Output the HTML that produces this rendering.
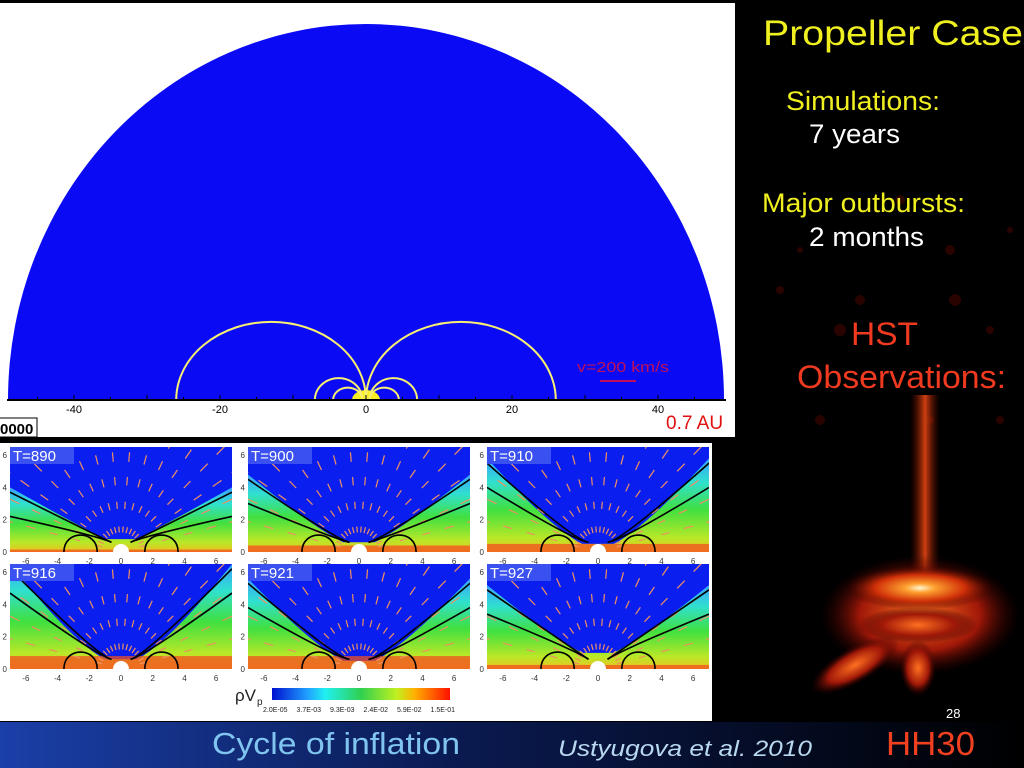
<!DOCTYPE html>
<html><head><meta charset="utf-8"><style>
html,body{margin:0;padding:0;background:#000;width:1024px;height:768px;overflow:hidden;font-family:"Liberation Sans",sans-serif}
svg{position:absolute;left:0;top:0}
</style></head><body>
<svg id="s" width="1024" height="768" xmlns="http://www.w3.org/2000/svg">
<defs>
<linearGradient id="bar" x1="0" x2="1" y1="0" y2="0"><stop offset="0" stop-color="#1a3fa8"/><stop offset="0.45" stop-color="#0a1a50"/><stop offset="1" stop-color="#000"/></linearGradient>
<linearGradient id="band" x1="0" x2="0" y1="0" y2="1"><stop offset="0" stop-color="#3aa0ff"/><stop offset="0.25" stop-color="#30e0d0"/><stop offset="0.55" stop-color="#40e040"/><stop offset="0.85" stop-color="#b8e828"/><stop offset="1" stop-color="#f0c020"/></linearGradient>
<radialGradient id="glow" cx="0.5" cy="0.5" r="0.5"><stop offset="0" stop-color="#fff8d0"/><stop offset="0.2" stop-color="#ffa030"/><stop offset="0.6" stop-color="#d03008"/><stop offset="1" stop-color="#300000" stop-opacity="0"/></radialGradient>
<radialGradient id="glow2" cx="0.5" cy="0.5" r="0.5"><stop offset="0" stop-color="#ff7020"/><stop offset="0.6" stop-color="#a01808"/><stop offset="1" stop-color="#300000" stop-opacity="0"/></radialGradient>
<linearGradient id="jet" x1="0" x2="1"><stop offset="0" stop-color="#600800" stop-opacity="0"/><stop offset="0.5" stop-color="#d04010"/><stop offset="1" stop-color="#600800" stop-opacity="0"/></linearGradient>
<linearGradient id="cbar" x1="0" x2="1"><stop offset="0" stop-color="#0010d0"/><stop offset="0.2" stop-color="#20a0ff"/><stop offset="0.3" stop-color="#20f0f0"/><stop offset="0.5" stop-color="#30d050"/><stop offset="0.7" stop-color="#c0f020"/><stop offset="0.8" stop-color="#ffb000"/><stop offset="1" stop-color="#ff1000"/></linearGradient>
<clipPath id="semi"><rect x="0" y="0" width="740" height="400"/></clipPath>
</defs>
<rect x="0" y="722" width="1024" height="46" fill="url(#bar)"/>
<g id="hst"></g>
<rect x="0" y="3" width="735" height="434" fill="#fff"/>
<g id="main"></g>
<rect x="0" y="443" width="712" height="278" fill="#fff"/>
<g id="panels"></g>
<text x="763" y="45" font-size="35" fill="#f0f020" textLength="260" lengthAdjust="spacingAndGlyphs">Propeller Case</text>
<text x="786" y="110" font-size="27" fill="#f0f020" textLength="154" lengthAdjust="spacingAndGlyphs">Simulations:</text>
<text x="809" y="143" font-size="27" fill="#fff" textLength="91" lengthAdjust="spacingAndGlyphs">7 years</text>
<text x="762" y="212" font-size="27" fill="#f0f020" textLength="203" lengthAdjust="spacingAndGlyphs">Major outbursts:</text>
<text x="809" y="246" font-size="27" fill="#fff" textLength="115" lengthAdjust="spacingAndGlyphs">2 months</text>
<text x="851" y="345" font-size="32" fill="#f03a20" textLength="67" lengthAdjust="spacingAndGlyphs">HST</text>
<text x="797" y="388" font-size="32" fill="#f03a20" textLength="209" lengthAdjust="spacingAndGlyphs">Observations:</text>
<text x="946" y="718" font-size="13" fill="#fff">28</text>
<text x="886" y="755" font-size="33" fill="#f04020" textLength="89" lengthAdjust="spacingAndGlyphs">HH30</text>
<text x="212" y="754" font-size="31" fill="#80c4f0" textLength="248" lengthAdjust="spacingAndGlyphs">Cycle of inflation</text>
<text x="558" y="756" font-size="22" font-style="italic" fill="#b8d8f0" textLength="254" lengthAdjust="spacingAndGlyphs">Ustyugova  et al. 2010</text>
</svg>
<script>
const NS="http://www.w3.org/2000/svg";
// main chart data
const mainTicks=[-40,-20,0,20,40];
const loopStart=[-26,0,-7,0.5,-4.5,0.5];
const loopEnd=[0,26,-0.5,7,-0.5,4.5];
const loopHeight=[10.7,10.7,3,3,1.7,1.7];
// panel data
const timeLabels=["T=890","T=900","T=910","T=916","T=921","T=927"];
const panelXTicks=[-6,-4,-2,0,2,4,6];
const panelYTicks=[0,2,4,6];
const bandEdgeHeight=[4,4.8,5.8,6.5,5.6,5.2];
const bandCenterHeight=[0.8,0.6,0.5,0.6,0.5,1.0];
const redStrip=[0.15,0.4,0.5,0.8,0.8,0.25];
const cbLabels=["2.0E-05","3.7E-03","9.3E-03","2.4E-02","5.9E-02","1.5E-01"];

function mk(tag,attrs,parent){const e=document.createElementNS(NS,tag);for(const k in attrs)e.setAttribute(k,attrs[k]);parent.appendChild(e);return e;}

// ---- main chart ----
const main=document.getElementById('main');
const mx=v=>366+v*7.3, my=v=>400-v*7.3;
let g=mk('g',{'clip-path':'url(#semi)'},main);
let e=mk('ellipse',{cx:366,cy:400,rx:358,ry:376,fill:'#0a0af5'},g);


for(let i=0;i<loopStart.length;i++){
  const a=mx(loopStart[i]),b=mx(loopEnd[i]),h=loopHeight[i]*7.3,r=(b-a)/2;
  const p=mk('path',{d:`M${a},400 A${r},${h} 0 0 1 ${b},400`,fill:'none',stroke:'#f8f070','stroke-width':2},main);
  
  
}
e=mk('ellipse',{cx:366,cy:400,rx:14,ry:10,fill:'#f8f020'},g);


e=mk('line',{x1:7,x2:726,y1:400,y2:400,stroke:'#000','stroke-width':2},main);


for(let v=-45;v<=45;v+=5){mk('line',{x1:mx(v),x2:mx(v),y1:400,y2:v%10===0?395:397,stroke:'#000'},main);}
mainTicks.forEach(v=>{const t=mk('text',{x:mx(v),y:413,'font-size':11,'text-anchor':'middle',fill:'#000'},main);t.textContent=v;

});
e=mk('text',{x:577,y:372,'font-size':15,fill:'#c0105a','textLength':92,'lengthAdjust':'spacingAndGlyphs'},main);e.textContent='v=200 km/s';


mk('line',{x1:600,x2:636,y1:381,y2:381,stroke:'#c0105a','stroke-width':2},main);
e=mk('text',{x:666,y:429,'font-size':19,fill:'#e01010'},main);e.textContent='0.7 AU';


mk('rect',{x:-2,y:418,width:39,height:19,fill:'#fff',stroke:'#000'},main);
e=mk('text',{x:0,y:434,'font-size':15,'font-weight':'bold',fill:'#000'},main);e.textContent='0000';



// ---- panels ----
const P=document.getElementById('panels');
const colX=[10,248,487], rowY=[447,564], W=222, H=105;
timeLabels.forEach((lab,i)=>{
  const x0=colX[i%3], y0=rowY[Math.floor(i/3)];
  const px=v=>x0+(v+7)/14*W, py=v=>y0+H-v/6.5*H;
  const grp=mk('g',{},P);
  
  
  const cp=mk('clipPath',{id:'cp'+i},grp);mk('rect',{x:x0,y:y0,width:W,height:H},cp);
  const inner=mk('g',{'clip-path':`url(#cp${i})`},grp);
  mk('rect',{x:x0,y:y0,width:W,height:H,fill:'#0a1ef0'},inner);
  const eh=bandEdgeHeight[i], ch=bandCenterHeight[i];
  const band=mk('path',{d:`M${px(-7)},${py(eh)} Q${px(-3)},${py(ch+1)} ${px(-1)},${py(ch)} L${px(1)},${py(ch)} Q${px(3)},${py(ch+1)} ${px(7)},${py(eh)} L${px(7)},${py(0)} L${px(-7)},${py(0)} Z`,fill:'url(#band)'},inner);
  
  
  mk('rect',{x:x0,y:py(redStrip[i]),width:W,height:py(0)-py(redStrip[i]),fill:'#f05020',opacity:0.75},inner);
  for(let a=15;a<=165;a+=10){for(let r=1.4;r<9;r+=1.5){
    const ang=a*Math.PI/180, cx=r*Math.cos(ang), cy=r*Math.sin(ang), L=0.3+r*0.05;
    mk('line',{x1:px(cx-L/2*Math.cos(ang)),y1:py(cy-L/2*Math.sin(ang)),x2:px(cx+L/2*Math.cos(ang)),y2:py(cy+L/2*Math.sin(ang)),stroke:'#f09060','stroke-width':1.2},inner);
  }}
  [eh-0.3,eh-1.8].forEach((h,k)=>{
    mk('path',{d:`M${px(-7)},${py(h)} Q${px(-1.5)},${py(ch+0.2)} ${px(-0.6)},${py(0.6)} M${px(7)},${py(h)} Q${px(1.5)},${py(ch+0.2)} ${px(0.6)},${py(0.6)}`,fill:'none',stroke:'#000','stroke-width':1.6},inner);
  });
  mk('path',{d:`M${px(-3.6)},${py(0)} C${px(-3.6)},${py(1.4)} ${px(-1.5)},${py(1.4)} ${px(-1.5)},${py(0)} M${px(3.6)},${py(0)} C${px(3.6)},${py(1.4)} ${px(1.5)},${py(1.4)} ${px(1.5)},${py(0)}`,fill:'none',stroke:'#000','stroke-width':1.6},inner);
  mk('ellipse',{cx:px(0),cy:py(0),rx:8,ry:8,fill:'#fff'},inner);
  mk('rect',{x:x0,y:y0,width:64,height:17,fill:'#3a50f0'},inner);
  const t=mk('text',{x:x0+3,y:y0+14,'font-size':15,fill:'#fff'},inner);t.textContent=lab;
  
  
  panelXTicks.forEach(v=>{const tt=mk('text',{x:px(v),y:y0+H+12,'font-size':8,'text-anchor':'middle',fill:'#333'},grp);tt.textContent=v;});
  panelYTicks.forEach(v=>{const tt=mk('text',{x:x0-3,y:py(v)+3,'font-size':8,'text-anchor':'end',fill:'#333'},grp);tt.textContent=v;});
});
let cb=mk('rect',{x:272,y:688,width:178,height:12,fill:'url(#cbar)'},P);


let ct=mk('text',{x:235,y:701,'font-size':17,fill:'#222'},P);ct.textContent='ρV';


mk('text',{x:257,y:705,'font-size':10,fill:'#222'},P).textContent='p';
cbLabels.forEach((l,i)=>{const t=mk('text',{x:263+i*33.5,y:712,'font-size':7,fill:'#222'},P);t.textContent=l;

});

// ---- HST image ----
const H2=document.getElementById('hst');
[[840,330,6],[860,300,5],[780,290,4],[950,250,5],[990,330,4],[820,420,5],[1000,420,4],[900,200,5],[955,300,6],[800,250,3],[1010,230,3],[930,420,4]].forEach(([x,y,r])=>mk('circle',{cx:x,cy:y,r:r,fill:'#3a0400',opacity:0.7},H2));
mk('rect',{x:910,y:395,width:30,height:200,fill:'url(#jet)'},H2);
mk('ellipse',{cx:920,cy:615,rx:100,ry:60,fill:'url(#glow2)'},H2);
mk('ellipse',{cx:920,cy:588,rx:75,ry:22,fill:'url(#glow)'},H2);
mk('ellipse',{cx:918,cy:625,rx:60,ry:18,fill:'url(#glow2)'},H2);
mk('ellipse',{cx:855,cy:665,rx:50,ry:18,fill:'url(#glow2)',transform:'rotate(-30 855 665)'},H2);
mk('ellipse',{cx:918,cy:668,rx:18,ry:28,fill:'url(#glow2)'},H2);
</script>
</body></html>
